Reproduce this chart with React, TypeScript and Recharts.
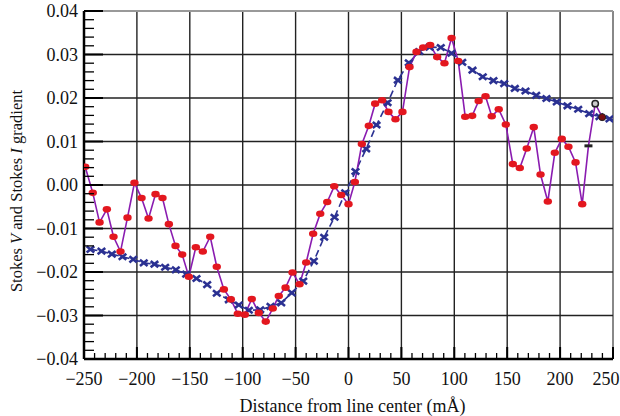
import React from 'react';
import { LineChart, Line, XAxis, YAxis, ReferenceLine, Label } from 'recharts';

// Stokes V (red markers, purple line)
const stokesVX = [
  -248.9, -241.7, -235.3, -228.4, -222.1, -215.5, -208.9, -202.3, -195.6, -189.0,
  -182.4, -175.8, -169.8, -163.5, -157.2, -150.9, -144.3, -137.7, -130.7, -124.5,
  -117.8, -111.2, -104.6, -98.0, -91.4, -84.8, -78.2, -71.6, -65.9, -59.5,
  -52.9, -46.3, -40.0, -33.4, -26.7, -20.1, -13.5, -6.9, 0.0, 6.0,
  12.6, 19.2, 25.2, 31.8, 37.8, 44.4, 51.0, 57.7, 64.3, 70.6,
  77.2, 83.8, 90.7, 97.4, 103.7, 110.3, 116.9, 123.0, 129.5, 135.4,
  142.0, 148.7, 155.3, 161.9, 168.5, 175.1, 181.5, 188.4, 195.0, 201.6,
  207.9, 214.6, 220.9, 226.8, 233.2, 239.8,
];
const stokesVY = [
  0.0042, -0.0018, -0.0086, -0.0056, -0.0119, -0.0153, -0.0075, 0.0005, -0.0030, -0.0077,
  -0.0021, -0.0030, -0.0090, -0.0140, -0.0160, -0.0211, -0.0143, -0.0153, -0.0119, -0.0188,
  -0.0240, -0.0263, -0.0296, -0.0298, -0.0262, -0.0294, -0.0314, -0.0284, -0.0255, -0.0236,
  -0.0201, -0.0228, -0.0178, -0.0112, -0.0066, -0.0039, -0.0003, -0.0023, -0.0044, 0.0007,
  0.0094, 0.0136, 0.0187, 0.0195, 0.0168, 0.0151, 0.0168, 0.0271, 0.0306, 0.0316,
  0.0322, 0.0294, 0.0280, 0.0338, 0.0285, 0.0157, 0.0159, 0.0193, 0.0204, 0.0158,
  0.0174, 0.0139, 0.0048, 0.0039, 0.0084, 0.0133, 0.0024, -0.0038, 0.0074, 0.0106,
  0.0088, 0.0052, -0.0044, 0.0090, 0.0187, 0.0156,
];

// Stokes I gradient (blue crosses, dashed line)
const gradIX = [
  -243.9, -233.5, -223.7, -213.6, -203.5, -193.5, -183.4, -173.3, -163.2, -153.4,
  -143.7, -133.6, -124.5, -113.1, -103.7, -94.2, -83.5, -73.7, -63.6, -53.6,
  -42.8, -32.8, -23.0, -13.2, -3.1, 6.6, 16.7, 26.5, 36.9, 46.6,
  57.0, 66.8, 76.6, 87.2, 97.4, 107.5, 117.2, 126.9, 137.0, 147.2,
  157.2, 167.3, 177.4, 187.1, 196.9, 207.0, 217.1, 227.5, 237.2, 246.7, 256.5,
];
const gradIY = [
  -0.0148, -0.0152, -0.0159, -0.0165, -0.0171, -0.0179, -0.0182, -0.0189, -0.0195, -0.0205,
  -0.0215, -0.0229, -0.0249, -0.0264, -0.0276, -0.0288, -0.0287, -0.0279, -0.0271, -0.0248,
  -0.0221, -0.0175, -0.0120, -0.0074, -0.0018, 0.0031, 0.0083, 0.0138, 0.0189, 0.0241,
  0.0281, 0.0307, 0.0317, 0.0316, 0.0303, 0.0282, 0.0264, 0.0249, 0.0240, 0.0233,
  0.0222, 0.0216, 0.0206, 0.0199, 0.0191, 0.0182, 0.0174, 0.0164, 0.0157, 0.0152, 0.0145,
];

const xMajorTicks = [-250, -200, -150, -100, -50, 0, 50, 100, 150, 200, 250];
const yMajorTicks = [-0.04, -0.03, -0.02, -0.01, 0, 0.01, 0.02, 0.03, 0.04];
const xMinorTicks = Array.from({ length: 51 }, (_, i) => -250 + i * 10);
const yMinorTicks = Array.from({ length: 41 }, (_, i) => Math.round(-40 + i * 2) / 1000);

const xTitle = 'Distance from line center (mÅ)';

const vData = stokesVX.map((x, i) => ({ x, v: stokesVY[i] }));
const iData = gradIX.map((x, i) => ({ x, g: gradIY[i] }));

const FONT = '"Liberation Serif", "Times New Roman", serif';
const fmtNum = (v: number, d: number) => {
  const s = Math.abs(v) < 1e-9 ? (0).toFixed(d) : v.toFixed(d);
  return s.replace('-', '\u2212');
};

const XTick = (props: any) => {
  const { x, y, payload } = props;
  const v = payload.value;
  const major = Math.abs(Math.round(v) % 50) === 0;
  const lx = v === 250 ? x - 7 : x;
  return (
    <g>
      <line x1={x} x2={x} y1={y} y2={y - (major ? 12 : 6)} stroke="#000" strokeWidth={major ? 2 : 1.3} />
      {major && (
        <text x={lx} y={y + 26} textAnchor="middle" fontSize={18} fontFamily={FONT} fill="#111">
          {fmtNum(v, 0)}
        </text>
      )}
    </g>
  );
};

const YTick = (props: any) => {
  const { x, y, payload } = props;
  const v = payload.value;
  const major = Math.round(v * 1000) % 10 === 0;
  return (
    <g>
      <line x1={x} x2={x + (major ? 19 : 10)} y1={y} y2={y} stroke="#000" strokeWidth={major ? 2 : 1.3} />
      {major && (
        <text x={x - 6} y={y + 6} textAnchor="end" fontSize={18} fontFamily={FONT} fill="#111">
          {fmtNum(v, 2)}
        </text>
      )}
    </g>
  );
};

const RedDot = (props: any) => {
  const { cx, cy, index } = props;
  if (cx == null || cy == null) return <g />;
  const n = vData.length;
  if (index === n - 3) {
    return <rect x={cx - 4} y={cy - 1.5} width={8} height={3} fill="#222" />;
  }
  if (index === n - 2) {
    return <circle cx={cx} cy={cy} r={3.2} fill="#ccc" stroke="#222" strokeWidth={1.5} />;
  }
  if (index === n - 1) {
    return <circle cx={cx} cy={cy} r={3.5} fill="#7a0d10" stroke="#222" strokeWidth={1} />;
  }
  return <ellipse cx={cx} cy={cy} rx={4.2} ry={3.3} fill="#e3171f" />;
};

const BlueDot = (props: any) => {
  const { cx, cy } = props;
  if (cx == null || cy == null) return <g />;
  const s = 3.8;
  return (
    <g stroke="#2b3192" strokeWidth={2.6}>
      <line x1={cx - s} y1={cy - s * 0.8} x2={cx + s} y2={cy + s * 0.8} />
      <line x1={cx - s} y1={cy + s * 0.8} x2={cx + s} y2={cy - s * 0.8} />
    </g>
  );
};

export default function App() {
  return (
    <div style={{ position: 'absolute', left: 0, top: 0, width: 620, height: 416, background: '#fff' }}>
      <LineChart width={620} height={416} margin={{ top: 11, right: 7, bottom: 0, left: 0 }}>
        <XAxis
          dataKey="x"
          type="number"
          domain={[-250, 250]}
          ticks={xMinorTicks}
          interval={0}
          allowDataOverflow
          tick={<XTick />}
          tickLine={false}
          tickSize={0}
          tickMargin={0}
          height={57}
          axisLine={{ stroke: '#000', strokeWidth: 2.5 }}
        >
          <Label
            content={(p: any) => {
              const vb = p.viewBox || { x: 84, y: 359, width: 529 };
              return (
                <text
                  x={vb.x + vb.width / 2 + 4}
                  y={vb.y + 53}
                  textAnchor="middle"
                  fontSize={18}
                  fontFamily={FONT}
                  fill="#111"
                >
                  {xTitle}
                </text>
              );
            }}
          />
        </XAxis>
        <YAxis
          type="number"
          domain={[-0.04, 0.04]}
          ticks={yMinorTicks}
          interval={0}
          allowDataOverflow
          tick={<YTick />}
          tickLine={false}
          tickSize={0}
          tickMargin={0}
          width={84}
          axisLine={{ stroke: '#000', strokeWidth: 2.5 }}
        >
          <Label
            content={() => (
              <text
                transform="translate(16,191) rotate(-90)"
                textAnchor="middle"
                dominantBaseline="central"
                fontSize={16.5}
                fontFamily={FONT}
                fill="#111"
              >
                Stokes <tspan fontStyle="italic">V</tspan> and Stokes <tspan fontStyle="italic">I</tspan> gradient
              </text>
            )}
          />
        </YAxis>
        {xMajorTicks
          .filter((t) => t !== -250)
          .map((t) => (
            <ReferenceLine
              key={'vx' + t}
              x={t}
              stroke={t === 250 ? '#888' : '#222'}
              strokeWidth={t === 250 ? 2 : 1.4}
            />
          ))}
        {yMajorTicks
          .filter((t) => t !== -0.04)
          .map((t) => (
            <ReferenceLine
              key={'hy' + t}
              y={t}
              stroke={t === 0.04 ? '#999' : '#222'}
              strokeWidth={t === 0.04 ? 2 : 1.4}
            />
          ))}
        <Line
          data={iData}
          dataKey="g"
          type="linear"
          stroke="#2b3192"
          strokeWidth={1.6}
          strokeDasharray="7 4"
          dot={<BlueDot />}
          activeDot={false}
          isAnimationActive={false}
        />
        <Line
          data={vData}
          dataKey="v"
          type="linear"
          stroke="#8a1cb0"
          strokeWidth={1.6}
          dot={<RedDot />}
          activeDot={false}
          isAnimationActive={false}
        />
      </LineChart>
    </div>
  );
}
